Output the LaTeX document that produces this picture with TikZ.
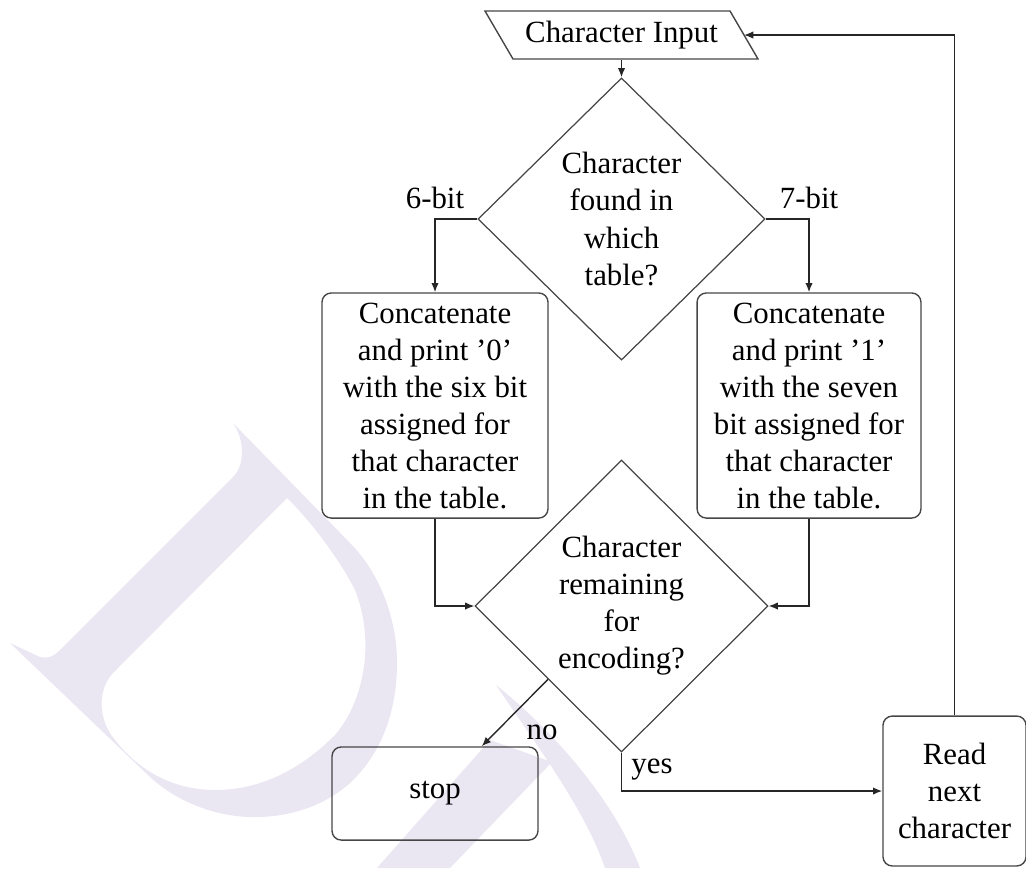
\documentclass[tikz,border=0pt]{standalone}
\usepackage{fontspec}
\setmainfont{Liberation Serif}
\usetikzlibrary{shapes.geometric,arrows.meta}
\definecolor{wm}{RGB}{234,230,242}
\definecolor{edge}{RGB}{70,70,70}
\begin{document}
\begin{tikzpicture}[x=0.3243pt,y=-0.3243pt,
  conn/.style={draw=black!85,line width=0.45pt,-{Latex[length=3pt,width=2.4pt]}},
  procbox/.style={draw=edge,rounded corners=3pt,align=center,inner sep=0pt,line width=0.45pt},
  decision/.style={diamond,draw=edge,align=center,inner sep=0pt,line width=0.4pt},
  lbl/.style={inner sep=0pt}]
\useasboundingbox (0,0) rectangle (1026,868);
% watermark
\fill[wm,even odd rule]
  (233,423) -- (350,543) .. controls (380,573) and (398,620) .. (397,667)
  .. controls (396,715) and (380,755) .. (350,783)
  .. controls (322,808) and (285,818) .. (250,817)
  .. controls (212,816) and (175,800) .. (150,777)
  -- (10,643) -- (40,657) .. controls (50,659) and (55,655) .. (60,650)
  -- (233,477) .. controls (245,465) and (245,440) .. (233,423) -- cycle
  (287,498) -- (113,673) .. controls (97,690) and (98,720) .. (115,740)
  .. controls (140,772) and (175,790) .. (215,790)
  .. controls (260,790) and (300,770) .. (335,735)
  .. controls (365,700) and (375,640) .. (355,590)
  .. controls (340,560) and (310,520) .. (287,498) -- cycle;
\fill[wm] (496,685) .. controls (540,720) and (610,790) .. (640,868)
  -- (605,868) .. controls (585,810) and (540,750) .. (496,685) -- cycle;
\fill[wm] (377,868) -- (490,740) -- (552,762) -- (450,868) -- cycle;
% nodes
\node[inner sep=0pt,minimum width=79.4pt,minimum height=15.6pt] (input) at (621.5,35) {Character Input};
\draw[edge,line width=0.45pt] (485,11) -- (730,11) -- (758,59) -- (513,59) -- cycle;
\coordinate (inE) at (744,35);
\node[decision,minimum width=93.1pt,minimum height=91.5pt] (d1) at (621.5,219) {Character\\found in\\which\\table?};
\node[procbox,minimum width=73.3pt,minimum height=73pt] (left) at (435,405.5) {Concatenate\\and print ’0’\\with the six bit\\assigned for\\that character\\in the table.};
\node[procbox,minimum width=72.6pt,minimum height=73pt] (right) at (809,405.5) {Concatenate\\and print ’1’\\with the seven\\bit assigned for\\that character\\in the table.};
\node[decision,minimum width=95pt,minimum height=94.7pt] (d2) at (621.5,606) {Character\\remaining\\for\\encoding?};
\node[procbox,minimum width=66.8pt,minimum height=30.2pt] (stop) at (435,793.5) {stop};
\node[procbox,minimum width=46.4pt,minimum height=48.6pt] (read) at (954.5,791) {Read\\next\\character};
% connectors
\draw[conn] (input.south) -- (d1.north);
\draw[conn] (d1.west) -| node[pos=0.5,above=3pt,lbl] {6-bit} (left.north);
\draw[conn] (d1.east) -| node[pos=0.5,above=3pt,lbl] {7-bit} (right.north);
\draw[conn] (left.south) |- (d2.west);
\draw[conn] (right.south) |- (d2.east);
\draw[conn] (d2.south west) -- (stop);
\node[lbl] (nolbl) at (542,732) {no};
\draw[conn] (d2.south) |- node[pos=0.22,right=3pt,lbl] {yes} (read.west);
\draw[conn] (read.north) |- (inE);
\end{tikzpicture}
\end{document}
